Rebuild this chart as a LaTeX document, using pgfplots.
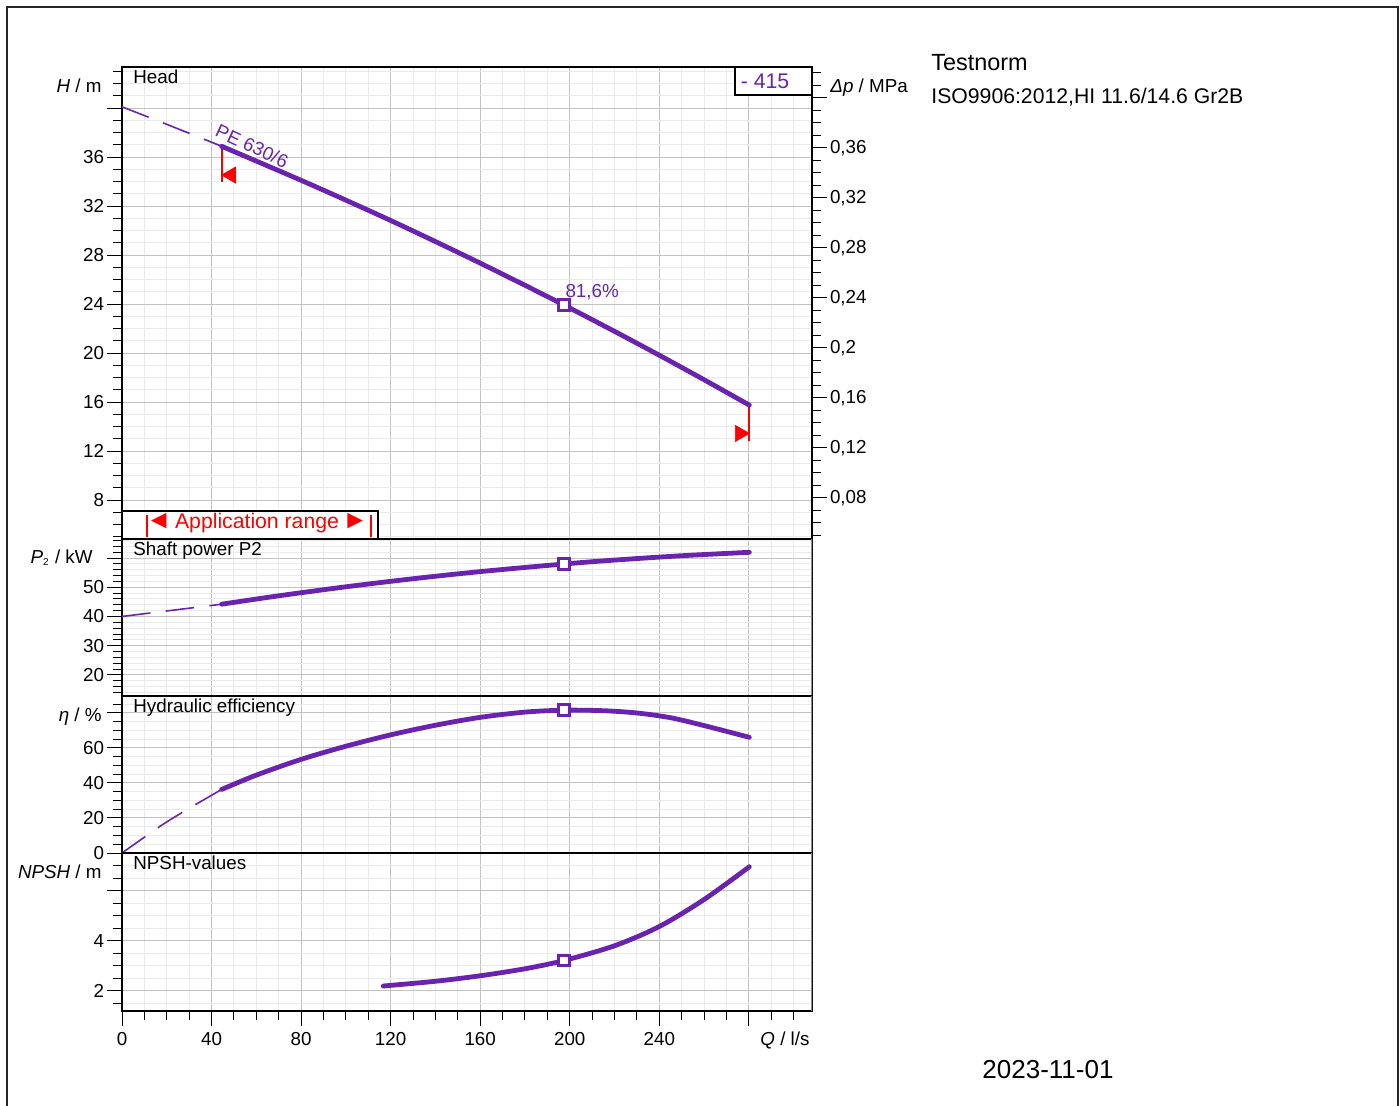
\documentclass[border=0pt]{standalone}
\usepackage{fontspec}
\setmainfont{Liberation Sans}
\usepackage{pgfplots}
\pgfplotsset{compat=1.18}

\definecolor{pump}{RGB}{105,35,175}
\definecolor{majgrid}{RGB}{195,195,195}
\definecolor{mingrid}{RGB}{234,234,234}
\definecolor{appred}{RGB}{255,0,0}
\newcommand\f{\fontsize{9.4}{11}\selectfont}

\pgfplotsset{
  panel/.style={
    scale only axis, width=345pt, xmin=0, xmax=308.2,
    anchor=north west,
    axis line style={line width=0.6pt},
    grid=both,
    major grid style={majgrid, line width=0.5pt},
    minor grid style={mingrid, line width=0.5pt},
    xtick={0,40,...,280},
    minor xtick={10,20,...,300},
    tick align=outside,
    major tick length=7.3pt,
    minor tick length=4.5pt,
    tick style={black, line width=0.5pt},
    ytick pos=left,
    ticklabel style={font=\f},
    yticklabel style={inner sep=1.5pt},
    /pgf/number format/assume math mode=true,
  },
  upper/.style={xticklabels={}, xtick style={draw=none}},
  curve/.style={pump, line width=2.4pt, line cap=round, smooth},
  dash/.style={pump, line width=0.8pt, dash pattern=on 14.3pt off 7.7pt},
  bep/.style={only marks, mark=square*, mark size=2.6pt,
    mark options={draw=pump, fill=white, line width=1.5pt}},
  tri/.style={only marks, color=appred, mark=triangle*, mark size=4.6pt},
  limit/.style={color=appred, line width=0.9pt, mark=none},
}

\begin{document}
\begin{tikzpicture}
\useasboundingbox (0,0) rectangle (700pt,-553pt);
\draw[line width=0.6pt, black!85] (3.5pt,-3.5pt) rectangle (699pt,-560pt);

% Head
\begin{axis}[panel, upper, at={(61pt,-33.5pt)}, height=236pt,
  ymin=4.82, ymax=43.35,
  ytick={8,12,...,40}, yticklabels={8,12,16,20,24,28,32,36,{}},
  minor ytick={5,6,...,43}]
  \addplot[dash] coordinates {(0,40.10) (20,38.67) (44.5,36.88)};
  \addplot[limit] coordinates {(44.5,36.9) (44.5,33.93)};
  \addplot[limit] coordinates {(280.2,15.75) (280.2,12.84)};
  \addplot[curve] coordinates {
    (44.5,36.88) (60,35.67) (80,34.10) (100,32.48) (120,30.82) (140,29.10)
    (160,27.34) (180,25.53) (197.4,23.92) (220,21.77) (240,19.82) (260,17.82) (280.2,15.75)};
  \addplot[bep] coordinates {(197.4,23.92)};
  \addplot[tri, mark options={rotate=90, draw=appred, fill=appred}] coordinates {(48.7,34.53)};
  \addplot[tri, mark options={rotate=-90, draw=appred, fill=appred}] coordinates {(276.0,13.44)};
  \node[pump, rotate=-25, font=\f] at (axis cs:58.1,36.9) {PE 630/6};
  \node[pump, font=\f] at (axis cs:210,24.98) {81,6\%};
  \node[anchor=mid west, font=\f, inner sep=0pt] at (axis cs:4.9,42.4) {Head};
\end{axis}

% Delta p axis on the right
\begin{axis}[scale only axis, width=345pt, height=236pt, at={(61pt,-33.5pt)},
  anchor=north west, xmin=0, xmax=308.2, ymin=0.0472, ymax=0.4245,
  axis x line=none, axis y line*=right,
  axis line style={line width=0.6pt},
  tick align=outside, major tick length=7.3pt, minor tick length=4.5pt,
  tick style={black, line width=0.5pt},
  ytick={0.08,0.12,0.16,0.20,0.24,0.28,0.32,0.36,0.40},
  yticklabels={{0,08},{0,12},{0,16},{0,2},{0,24},{0,28},{0,32},{0,36},{}},
  minor ytick={0.05,0.06,0.07,0.08,0.09,0.10,0.11,0.12,0.13,0.14,0.15,0.16,0.17,0.18,0.19,0.20,0.21,0.22,0.23,0.24,0.25,0.26,0.27,0.28,0.29,0.30,0.31,0.32,0.33,0.34,0.35,0.36,0.37,0.38,0.39,0.40,0.41,0.42},
  ticklabel style={font=\f, inner sep=1.5pt}]
  \addplot[draw=none] coordinates {(0,0.1)};
\end{axis}

% Shaft power
\begin{axis}[panel, upper, at={(61pt,-269.5pt)}, height=78.5pt,
  ymin=12.8, ymax=66.5,
  ytick={20,30,...,60}, yticklabels={20,30,40,50,{}},
  minor ytick={14,16,...,66}]
  \addplot[dash] coordinates {(0,40.0) (44.5,44.2)};
  \addplot[curve] coordinates {
    (44.5,44.2) (70,47.07) (100,50.15) (130,52.91) (160,55.35) (197.4,57.95)
    (220,59.29) (250,60.78) (280.2,61.95)};
  \addplot[bep] coordinates {(197.4,57.95)};
  \node[anchor=mid west, font=\f, inner sep=0pt] at (axis cs:4.9,62.7) {Shaft power P2};
  \draw[black!45, line width=0.6pt] (rel axis cs:1,0) -- (rel axis cs:1,1);
\end{axis}

% Efficiency
\begin{axis}[panel, upper, at={(61pt,-348pt)}, height=78.5pt,
  ymin=0, ymax=89.7,
  ytick={0,20,...,80}, yticklabels={0,20,40,60,{}},
  minor ytick={5,10,...,85}]
  \addplot[dash, smooth] coordinates {(0,0) (17.4,15.6) (28.9,24.7) (44.5,36.3)};
  \addplot[curve] coordinates {
    (44.5,36.3) (60,44.5) (80,53.5) (100,61.0) (120,67.5) (140,73.0) (160,77.5)
    (180,80.5) (197.4,81.6) (215,81.3) (230,80.0) (245,77.3) (260,72.8) (280.2,66.1)};
  \addplot[bep] coordinates {(197.4,81.6)};
  \node[anchor=mid west, font=\f, inner sep=0pt] at (axis cs:4.9,83.4) {Hydraulic efficiency};
  \draw[black!45, line width=0.6pt] (rel axis cs:1,0) -- (rel axis cs:1,1);
\end{axis}

% NPSH
\begin{axis}[panel, at={(61pt,-426.5pt)}, height=79pt,
  ymin=1.19, ymax=7.51,
  xtick pos=bottom, xticklabels={0,40,80,120,160,200,240,{}},
  ytick={2,4,6}, yticklabels={2,4,{}},
  minor ytick={1.5,2,2.5,3,3.5,4,4.5,5,5.5,6,6.5,7,7.5}]
  \addplot[curve] coordinates {
    (116.7,2.19) (140,2.38) (160,2.60) (180,2.88) (197.4,3.21) (220,3.80)
    (240,4.57) (260,5.65) (280.2,6.96)};
  \addplot[bep] coordinates {(197.4,3.21)};
  \node[anchor=mid west, font=\f, inner sep=0pt] at (axis cs:4.9,7.07) {NPSH-values};
  \draw[black!45, line width=0.6pt] (rel axis cs:1,0) -- (rel axis cs:1,1);
\end{axis}

% boxes
\draw[black, line width=0.6pt, fill=white] (61pt,-255.5pt) rectangle (189pt,-269.5pt);
\node[appred, font=\fontsize{10.6}{12}\selectfont] at (128.5pt,-261.5pt)
  {{\fontsize{13}{12}\selectfont ◄}\,Application range\,{\fontsize{13}{12}\selectfont ►}};
\draw[appred, line width=1pt] (73.5pt,-257.5pt) -- (73.5pt,-268.5pt);
\draw[appred, line width=1pt] (185.5pt,-257.5pt) -- (185.5pt,-268.5pt);
\draw[black, line width=0.6pt, fill=white] (367.5pt,-33.5pt) rectangle (406pt,-47.5pt);
\node[pump, font=\fontsize{10.6}{12}\selectfont] at (382.5pt,-40.5pt) {- 415};

% axis titles
\node[anchor=mid east, font=\f, inner sep=0pt] at (51pt,-43.5pt) {\textit{H} / m};
\node[anchor=mid west, font=\f, inner sep=0pt] at (415pt,-43.5pt) {\textit{Δp} / MPa};
\node[anchor=mid east, font=\f, inner sep=0pt] at (46.5pt,-279pt) {\textit{P}\textsubscript{\fontsize{5}{6}\selectfont 2} / kW};
\node[anchor=mid east, font=\f, inner sep=0pt] at (51pt,-358pt) {\textit{η} / \%};
\node[anchor=mid east, font=\f, inner sep=0pt] at (51pt,-436.5pt) {\textit{NPSH} / m};
\node[anchor=mid, font=\f] at (392.5pt,-520pt) {\textit{Q} / l/s};

% side texts
\node[anchor=mid west, inner sep=0pt, font=\fontsize{11.7}{14}\selectfont] at (465.5pt,-32.5pt) {Testnorm};
\node[anchor=mid west, inner sep=0pt, font=\fontsize{10.6}{13}\selectfont] at (465.5pt,-49pt) {ISO9906:2012,HI 11.6/14.6 Gr2B};
\node[font=\fontsize{13}{15}\selectfont] at (524pt,-535pt) {2023-11-01};
\end{tikzpicture}
\end{document}
